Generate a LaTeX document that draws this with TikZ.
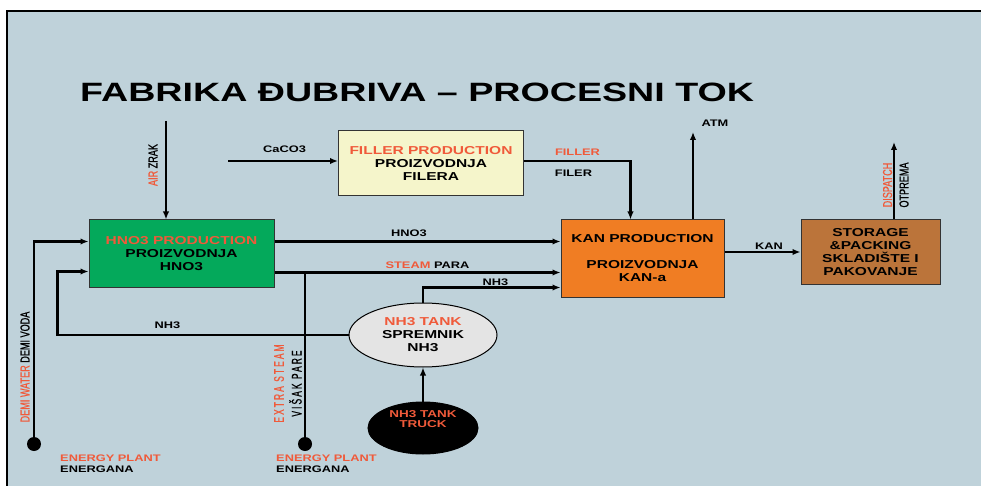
\documentclass[tikz,border=0pt]{standalone}
\usepackage{fontspec}
\usepackage{tikz}
\usetikzlibrary{arrows.meta,positioning,calc}
\usetikzlibrary{shapes.geometric}
\newfontfamily\widefont{Liberation Sans Bold}[FakeStretch=1.35]
\newfontfamily\titlefont{Liberation Sans Bold}[FakeStretch=1.42]
\newfontfamily\narrowfont{Liberation Sans}[FakeStretch=0.7,FakeBold=0.8]
\newfontfamily\spacedfont{Liberation Sans}[FakeStretch=0.6,LetterSpace=15,FakeBold=0.8]
\definecolor{panel}{HTML}{BFD2DA}
\definecolor{hnogreen}{HTML}{04A95B}
\definecolor{filyellow}{HTML}{F5F5CB}
\definecolor{kanorange}{HTML}{F07D23}
\definecolor{storbrown}{HTML}{BB743A}
\definecolor{tankgrey}{HTML}{E4E4E4}
\definecolor{txtred}{HTML}{F05A3A}

\begin{document}
\begin{tikzpicture}[x=1pt,y=-1pt,
    box/.style={draw=black!80, line width=1pt, rectangle, inner sep=0pt, align=center,
                font=\widefont\fontsize{11.5}{13}\selectfont},
    tank/.style={draw=black, line width=1pt, ellipse, inner sep=0pt, align=center,
                font=\widefont\fontsize{11.5}{13}\selectfont},
    flow/.style={line width=2.4pt, -{Latex[length=8pt,width=6.5pt]}},
    pipe/.style={line width=2.4pt},
    lbl/.style={inner sep=0pt, font=\widefont\fontsize{9.5}{11}\selectfont},
    vlbl/.style={inner sep=0pt, rotate=90, font=\narrowfont\fontsize{13}{13}\selectfont},
    slbl/.style={inner sep=0pt, rotate=90, font=\spacedfont\fontsize{14}{14}\selectfont},
    dot/.style={circle, fill=black, inner sep=0pt, minimum size=14pt}]
    \useasboundingbox (0,0) rectangle (981,486);
    % panel
    \fill[panel] (7,11) rectangle (981,486);
    \draw[line width=1.5pt] (7,486) -- (7,11) -- (981,11);

    \node[anchor=base west, inner sep=0pt, font=\titlefont\fontsize{26.5}{30}\selectfont]
        (title) at (80,102) {FABRIKA ĐUBRIVA – PROCESNI TOK};

    % units
    \node[box, fill=hnogreen, minimum width=185pt, minimum height=67pt] (hno) at (181.5,253.5)
        {\textcolor{txtred}{HNO3 PRODUCTION}\\PROIZVODNJA\\HNO3};
    \node[box, fill=filyellow, minimum width=185pt, minimum height=65pt] (fil) at (431,163.5)
        {\textcolor{txtred}{FILLER PRODUCTION}\\PROIZVODNJA\\FILERA};
    \node[box, fill=kanorange, minimum width=163pt, minimum height=77pt] (kan) at (642.5,258.5)
        {KAN PRODUCTION\\[13pt]PROIZVODNJA\\KAN-a};
    \node[box, fill=storbrown, minimum width=139pt, minimum height=64pt] (sto) at (870.5,252)
        {STORAGE\\\&PACKING\\SKLADIŠTE I\\PAKOVANJE};
    \node[tank, fill=tankgrey, minimum width=148pt, minimum height=64pt] (tank) at (423,335)
        {\textcolor{txtred}{NH3 TANK}\\SPREMNIK\\NH3};
    \node[tank, fill=black, minimum width=110pt, minimum height=52pt] (truck) at (423,428) {};
    \node[lbl, text=txtred, align=center, font=\widefont\fontsize{10}{10.5}\selectfont]
        (trucktxt) at (423,419) {NH3 TANK\\TRUCK};
    \node[dot] (demidot) at (34,444) {};
    \node[dot] (steamdot) at (305,444) {};

    % free ends
    \coordinate (airin) at (166,121);
    \coordinate (caco) at (228,161);
    \coordinate (atm) at (693,132);
    \coordinate (disp) at (894,142);
    \coordinate (hnoout) at ([yshift=-22pt]hno.north east);
    \coordinate (steamout) at ([yshift=-53pt]hno.north east);
    \coordinate (nh3in) at ([yshift=-68pt]kan.north west);
    \coordinate (nh3back) at ([yshift=-52pt]hno.north west);
    \coordinate (demiin) at ([yshift=-22pt]hno.north west);

    % flows
    \draw[flow] (airin) -- (airin |- hno.north);
    \draw[flow] (caco) -- (caco -| fil.west);
    \draw[flow] (caco -| fil.east) -| ([xshift=70pt]kan.north west);
    \draw[flow] (atm |- kan.north) -- (atm);
    \draw[flow] (kan.east |- sto.west) -- (sto.west);
    \draw[flow] (disp |- sto.north) -- (disp);
    \draw[flow] (hnoout) -- (hnoout -| kan.west);
    \draw[flow] (steamout) -- (steamout -| kan.west);
    \draw[pipe] (steamdot) -- (steamdot |- steamout);
    \draw[flow] (tank.north) |- (nh3in);
    \draw[flow] (truck.north) -- (tank.south);
    \draw[flow] (tank.west) -| ([xshift=-31pt]nh3back) -- (nh3back);
    \draw[flow] (demidot) |- (demiin);

    % labels
    \node[lbl] (lcaco) at (284.5,149) {CaCO3};
    \node[lbl, text=txtred] (lfiller) at (577.5,152.5) {FILLER};
    \node[lbl] (lfiler) at (573.5,173.5) {FILER};
    \node[lbl] (latm) at (715,123) {ATM};
    \node[lbl] (lkan) at (769,246) {KAN};
    \node[lbl] (lhno) at (409,233.5) {HNO3};
    \node[lbl] (lsteam) at (427.5,265.5) {\textcolor{txtred}{STEAM} PARA};
    \node[lbl] (lnh3a) at (495.5,282.5) {NH3};
    \node[lbl] (lnh3b) at (167.5,325) {NH3};
    \node[lbl, align=left, anchor=west] (lenergya) at (60,463.5)
        {\textcolor{txtred}{ENERGY PLANT}\\ENERGANA};
    \node[lbl, align=left, anchor=west] (lenergyb) at (276,463.5)
        {\textcolor{txtred}{ENERGY PLANT}\\ENERGANA};
    \node[vlbl] (lair) at (153,165) {\textcolor{txtred}{AIR} ZRAK};
    \node[vlbl] (ldemi) at (25,367) {\textcolor{txtred}{DEMI WATER} DEMI VODA};
    \node[vlbl, text=txtred] (ldisp) at (887.5,185) {DISPATCH};
    \node[vlbl] (lotp) at (904,185) {OTPREMA};
    \node[slbl, text=txtred] (lextra) at (279,383.5) {EXTRA STEAM};
    \node[slbl] (lvisak) at (295.5,383.5) {VIŠAK PARE};
\end{tikzpicture}
\end{document}
